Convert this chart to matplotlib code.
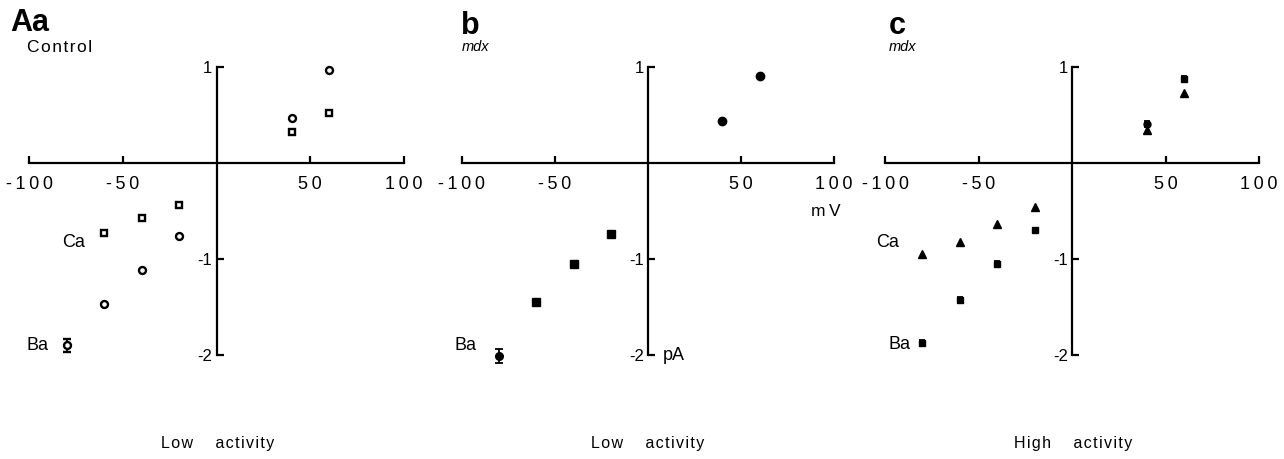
import matplotlib
matplotlib.use("Agg")
import matplotlib.pyplot as plt

plt.rcParams['font.family'] = ['Liberation Sans', 'DejaVu Sans']

# Current-voltage data (mV, pA)
a_volt_neg = [-80, -60, -40, -20]
a_volt_pos = [40, 60]
a_ba_neg = [-1.90, -1.47, -1.11, -0.76]
a_ba_pos = [0.47, 0.97]
a_ba_err = [0.07, 0.0, 0.0, 0.0]
a_ca_neg = [-0.73, -0.57, -0.44]
a_ca_volt_neg = [-60, -40, -20]
a_ca_pos = [0.32, 0.52]

b_volt_neg = [-60, -40, -20]
b_ba_neg = [-1.45, -1.05, -0.74]
b_ba_low_volt = [-80]
b_ba_low = [-2.01]
b_ba_low_err = [0.07]
b_volt_pos = [40, 60]
b_ba_pos = [0.44, 0.91]

c_volt_neg = [-80, -60, -40, -20]
c_ba_neg = [-1.87, -1.43, -1.05, -0.70]
c_ba_err = [0.03, 0.03, 0.03, 0.02]
c_ca_neg = [-0.95, -0.82, -0.64, -0.46]
c_ca_pos_volt = [40, 60]
c_ca_pos = [0.34, 0.73]
c_ba_sq_volt = [60]
c_ba_sq = [0.88]
c_ba_sq_err = [0.03]
c_ba_circ_volt = [40]
c_ba_circ = [0.41]
c_ba_circ_err = [0.03]

x_ticks = [-100, -50, 50, 100]
x_tick_labels = ['-100', '-50', '50', '100']
y_ticks = [-2, -1, 1]
y_tick_labels = ['-2', '-1', '1']

W, H = 1284, 459
fig = plt.figure(figsize=(W / 100, H / 100), dpi=100)


def spaced(s, gap='\u200a'):
    """Widen letter spacing the way typewriter-style lettering looks."""
    return gap.join(s)


def px_axes(left, width):
    top, bottom = 47.8, 374.2
    return fig.add_axes([left / W, 1 - bottom / H, width / W, (bottom - top) / H])


def style(ax):
    ax.set_xlim(-110, 110)
    ax.set_ylim(-2.2, 1.2)
    for s in ('top', 'right'):
        ax.spines[s].set_visible(False)
    ax.spines['left'].set_position(('data', 0))
    ax.spines['bottom'].set_position(('data', 0))
    ax.spines['left'].set_bounds(-2, 1)
    ax.spines['bottom'].set_bounds(-100, 100)
    for s in ('left', 'bottom'):
        ax.spines[s].set_linewidth(1.6)
    ax.set_xticks(x_ticks)
    ax.set_xticklabels([spaced(t, '\u2009') for t in x_tick_labels])
    ax.set_yticks(y_ticks)
    ax.set_yticklabels(y_tick_labels)
    ax.tick_params(axis='x', direction='in', length=5, width=1.6, pad=9, labelsize=13)
    ax.tick_params(axis='y', direction='in', length=5, width=1.6, pad=3, labelsize=12)
    ax.patch.set_visible(False)


def ftext(x, y, s, **kw):
    fig.text(x / W, 1 - y / H, s, **kw)


open_kw = dict(linestyle='none', markerfacecolor='white', markeredgecolor='black',
               markeredgewidth=1.7, color='black')
fill_kw = dict(linestyle='none', color='black')

# Panel Aa: control, low activity
ax1 = px_axes(10.25, 412.5)
style(ax1)
ax1.errorbar(a_volt_neg, a_ba_neg, yerr=a_ba_err, fmt='o', ms=5, capsize=3,
             elinewidth=1.3, capthick=1.3, **open_kw)
ax1.plot(a_volt_pos, a_ba_pos, 'o', ms=5, **open_kw)
ax1.plot(a_ca_volt_neg, a_ca_neg, 's', ms=5, **open_kw)
ax1.plot(a_volt_pos, a_ca_pos, 's', ms=5, **open_kw)

# Panel b: mdx, low activity
ax2 = px_axes(443.4, 409.2)
style(ax2)
ax2.plot(b_volt_neg, b_ba_neg, 's', ms=5.5, **fill_kw)
ax2.errorbar(b_ba_low_volt, b_ba_low, yerr=b_ba_low_err, fmt='o', ms=5.5, capsize=3,
             elinewidth=1.3, capthick=1.3, **fill_kw)
ax2.plot(b_volt_pos, b_ba_pos, 'o', ms=6, **fill_kw)

# Panel c: mdx, high activity
ax3 = px_axes(866.3, 411.4)
style(ax3)
ax3.errorbar(c_volt_neg, c_ba_neg, yerr=c_ba_err, fmt='s', ms=5, capsize=2.5,
             elinewidth=1.3, capthick=1.3, **fill_kw)
ax3.plot(c_volt_neg, c_ca_neg, '^', ms=5.5, **fill_kw)
ax3.plot(c_ca_pos_volt, c_ca_pos, '^', ms=5.5, **fill_kw)
ax3.errorbar(c_ba_sq_volt, c_ba_sq, yerr=c_ba_sq_err, fmt='s', ms=5, capsize=2.5,
             elinewidth=1.3, capthick=1.3, **fill_kw)
ax3.errorbar(c_ba_circ_volt, c_ba_circ, yerr=c_ba_circ_err, fmt='o', ms=5, capsize=2.5,
             elinewidth=1.3, capthick=1.3, **fill_kw)

# Panel letters and subtitles
ftext(10, 31, 'Aa', fontsize=22, fontweight='bold', va='baseline')
ftext(27, 52, spaced('Control'), fontsize=12.5, va='baseline')
ftext(461, 34, 'b', fontsize=22, fontweight='bold', va='baseline')
ftext(462, 51, 'mdx', fontsize=10.5, style='italic', va='baseline')
ftext(889, 34, 'c', fontsize=22, fontweight='bold', va='baseline')
ftext(889, 51, 'mdx', fontsize=10.5, style='italic', va='baseline')

# Ion labels
ftext(62, 247, 'Ca', fontsize=13, va='baseline')
ftext(27, 350, 'Ba', fontsize=13, va='baseline')
ftext(455, 350, 'Ba', fontsize=13, va='baseline')
ftext(876, 247, 'Ca', fontsize=13, va='baseline')
ftext(888, 349, 'Ba', fontsize=13, va='baseline')

# Units
ftext(811, 216, spaced('mV', '\u2009'), fontsize=12.5, va='baseline')
ftext(663, 360, 'pA', fontsize=13, va='baseline')

# Activity labels
ftext(218, 448, spaced('Low') + '     ' + spaced('activity'), fontsize=11.5,
      ha='center', va='baseline')
ftext(648, 448, spaced('Low') + '     ' + spaced('activity'), fontsize=11.5,
      ha='center', va='baseline')
ftext(1073, 448, spaced('High') + '     ' + spaced('activity'), fontsize=11.5,
      ha='center', va='baseline')

fig.savefig('out.png', dpi=100, facecolor='white')
